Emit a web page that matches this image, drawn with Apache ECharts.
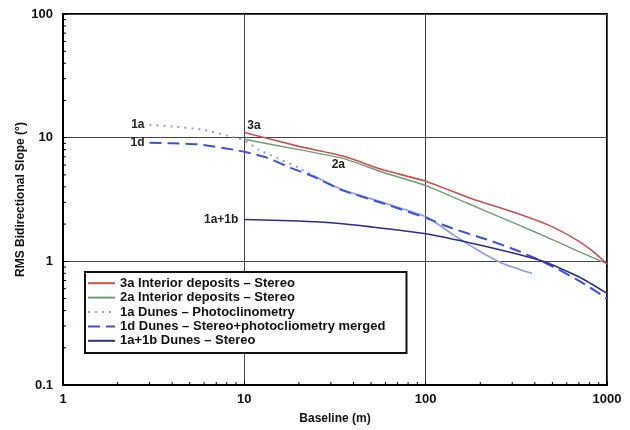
<!DOCTYPE html>
<html>
<head>
<meta charset="utf-8">
<script src="https://cdn.jsdelivr.net/npm/echarts@6/dist/echarts.min.js"></script>
<style>
html,body{margin:0;padding:0;background:#fff;}
#c{width:630px;height:430px;}
</style>
</head>
<body>
<div id="c"></div>
<script>
// ---- Data (baseline m, RMS slope deg) ----
const s3a = [[10,11.0],[20,8.5],[35,7.1],[58,5.5],[100,4.45],[170,3.3],[330,2.4],[500,1.9],[700,1.45],[850,1.18],[1000,0.95]];
const s2a = [[10,9.7],[20,8.0],[35,6.8],[58,5.25],[100,4.1],[170,2.95],[330,1.95],[500,1.5],[700,1.2],[1000,0.96]];
const s1aDotted = [[3,12.7],[4,12.3],[5.7,11.7],[8.7,10.1],[10,9.5],[12,8.0],[15,6.9],[20,5.7],[24,4.95]];
const s1aSolid = [[24,4.95],[34,3.85],[60,2.95],[100,2.3],[141,1.65],[194,1.23],[266,0.96],[330,0.86],[386,0.8]];
const s1d = [[3,9.1],[4,9.0],[5.7,8.8],[8.7,8.0],[10,7.7],[13.3,6.9],[18,5.7],[24,4.85],[34,3.8],[60,2.9],[100,2.25],[140,1.85],[218,1.5],[330,1.2],[465,0.96],[710,0.69],[1000,0.5]];
const s1a1b = [[10,2.18],[20,2.12],[30,2.05],[50,1.9],[100,1.67],[218,1.31],[444,1.0],[700,0.75],[1000,0.55]];
const seriesNames = ['3a Interior deposits \u2013 Stereo','2a Interior deposits \u2013 Stereo','1a Dunes \u2013 Photoclinometry','1d Dunes \u2013 Stereo+photocliometry merged','1a+1b Dunes \u2013 Stereo'];
const xTicks = [1,10,100,1000];
const yTicks = [0.1,1,10,100];
const minorSteps = [2,3,4,5,6,7,8,9];
const xDecades = [1,10,100];
const yDecades = [0.1,1,10];

const FONT = 'Liberation Sans, Arial, sans-serif';
const C3a='#c9504f', C2a='#6f9e72', C1a='#8a9de8', C1d='#3e52d6', C1b='#2b2d8c';

const minorX = [], minorY = [];
xDecades.forEach(d => minorSteps.forEach(m => minorX.push([d*m, 'x'])));
yDecades.forEach(d => minorSteps.forEach(m => minorY.push([d*m, 'y'])));

function annot(text, coord, position, distance, offset) {
  return {coord: coord, symbol: 'circle', symbolSize: 0,
    label: {show: true, formatter: text, position: position, distance: distance || 4, offset: offset || [0,0],
      color: '#222', fontFamily: FONT, fontWeight: 'bold', fontSize: 12}};
}

const chart = echarts.init(document.getElementById('c'), null, {renderer: 'canvas'});
chart.setOption({
  animation: false,
  backgroundColor: '#fff',
  grid: {left: 63, right: 23, top: 14, bottom: 41, show: true, borderColor: '#000', borderWidth: 2, containLabel: false},
  legend: {
    orient: 'vertical', left: 85, top: 272,
    data: seriesNames.map(n => ({name: n, itemStyle: {opacity: 0}})),
    itemStyle: {opacity: 0},
    backgroundColor: '#fff', borderColor: '#111', borderWidth: 2,
    padding: [4, 21, 5, 2], itemGap: 0, itemWidth: 27, itemHeight: 14,
    textStyle: {fontFamily: FONT, fontWeight: 'bold', fontSize: 13, color: '#111', lineHeight: 14.4}
  },
  xAxis: {
    type: 'log', logBase: 10, min: 1, max: 1000,
    name: 'Baseline (m)', nameLocation: 'middle', nameGap: 28, nameMoveOverlap: false,
    nameTextStyle: {fontFamily: FONT, fontWeight: 'bold', fontSize: 12, color: '#111'},
    axisLine: {show: true, lineStyle: {color: '#000', width: 2}},
    axisTick: {show: true, inside: true, length: 4, lineStyle: {color: '#000'}},
    axisLabel: {margin: 8, fontFamily: FONT, fontWeight: 'bold', fontSize: 13, color: '#111',
      formatter: v => String(v)},
    splitLine: {show: true, lineStyle: {color: '#444', width: 1}}
  },
  yAxis: {
    type: 'log', logBase: 10, min: 0.1, max: 100,
    name: 'RMS Bidirectional Slope (\u00b0)', nameLocation: 'middle', nameGap: 36, nameRotate: 90, nameMoveOverlap: false,
    nameTextStyle: {fontFamily: FONT, fontWeight: 'bold', fontSize: 12, color: '#111'},
    axisLine: {show: true, lineStyle: {color: '#000', width: 2}},
    axisTick: {show: true, inside: true, length: 4, lineStyle: {color: '#000'}},
    axisLabel: {margin: 10, fontFamily: FONT, fontWeight: 'bold', fontSize: 13, color: '#111',
      formatter: v => (v < 1 ? v.toFixed(1) : String(Math.round(v)))},
    splitLine: {show: true, lineStyle: {color: '#444', width: 1}}
  },
  series: [
    {name: seriesNames[0], type: 'line', data: s3a, symbol: 'none', smooth: 0.2, z: 5,
      lineStyle: {color: C3a, width: 1.6}, itemStyle: {color: C3a},
      markPoint: {data: [annot('3a', [10, 11.0], 'right', 3, [0, -7])]}},
    {name: seriesNames[1], type: 'line', data: s2a, symbol: 'none', smooth: 0.2, z: 4,
      lineStyle: {color: C2a, width: 1.4}, itemStyle: {color: C2a},
      markPoint: {data: [annot('2a', [33, 6.0], 'inside', 0)]}},
    {name: seriesNames[2], type: 'line', data: s1aDotted, symbol: 'none', smooth: 0.2, z: 3,
      lineStyle: {color: C1a, width: 2, type: [2, 5]}, itemStyle: {color: C1a},
      markPoint: {data: [annot('1a', [3, 12.7], 'left', 5)]}},
    {name: seriesNames[2], type: 'line', data: s1aSolid, symbol: 'none', smooth: 0.2, z: 3,
      lineStyle: {color: C1a, width: 1.6}, itemStyle: {color: C1a}},
    {name: seriesNames[3], type: 'line', data: s1d, symbol: 'none', smooth: 0.2, z: 4,
      lineStyle: {color: C1d, width: 2, type: [12, 6]}, itemStyle: {color: C1d},
      markPoint: {data: [annot('1d', [3, 9.1], 'left', 5)]}},
    {name: seriesNames[4], type: 'line', data: s1a1b, symbol: 'none', smooth: 0.2, z: 4,
      lineStyle: {color: C1b, width: 1.6}, itemStyle: {color: C1b},
      markPoint: {data: [annot('1a+1b', [10, 2.18], 'left', 6)]}},
    {type: 'custom', silent: true, z: 10, data: minorX.concat(minorY),
      renderItem: function (params, api) {
        const v = api.value(0), axis = minorX.length > params.dataIndex ? 'x' : 'y';
        let p, shape;
        if (axis === 'x') {
          p = api.coord([v, 0.1]);
          shape = {x1: p[0], y1: p[1], x2: p[0], y2: p[1] - 3};
        } else {
          p = api.coord([1, v]);
          shape = {x1: p[0], y1: p[1], x2: p[0] + 3, y2: p[1]};
        }
        return {type: 'line', shape: shape, style: {stroke: '#000', lineWidth: 1}};
      }}
  ]
});
</script>
</body>
</html>
